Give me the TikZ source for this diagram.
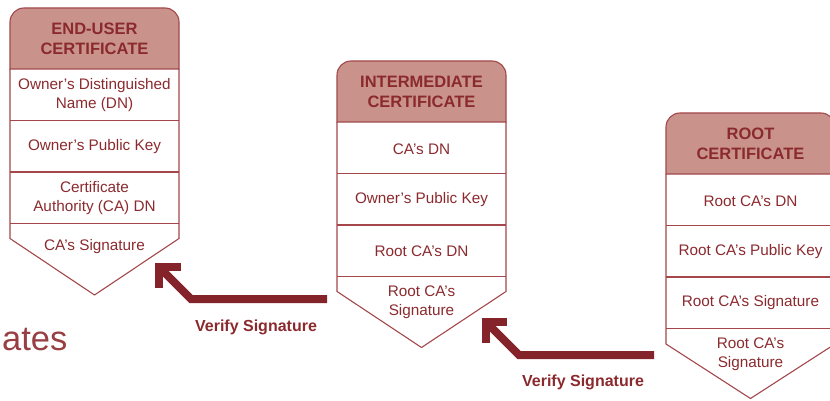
\documentclass[tikz,border=0pt]{standalone}
\usepackage{fontspec}
\setmainfont{Liberation Sans}

\definecolor{certtext}{HTML}{8B2A2E}
\definecolor{certline}{HTML}{A3474B}
\definecolor{certfill}{HTML}{C9938B}
\definecolor{arrowred}{HTML}{85232A}

\tikzset{
    frame/.style={draw=certline, line width=1.1pt},
    headbox/.style={frame, fill=certfill},
    headtext/.style={text=certtext, align=center, font=\fontsize{16.5}{20}\selectfont\bfseries},
    rowtext/.style={text=certtext, align=center, font=\fontsize{15.3}{19}\selectfont},
    verifyarrow/.style={draw=arrowred, line width=8pt, line join=miter},
    verifytext/.style={text=certtext, font=\fontsize{16}{19}\selectfont\bfseries}
}

\begin{document}
\begin{tikzpicture}[x=1pt, y=-1pt]
    \useasboundingbox (0,0) rectangle (830,401);

    %%%%%%%%%%%%%%%%%%%% end-user certificate
    \begin{scope}[shift={(10,8)}]
        \filldraw[headbox] (0,61) {[rounded corners=14pt] -- (0,0) -- (169,0)} -- (169,61) -- cycle;
        \draw[frame] (0,61) -- (0,230.5) -- (84.5,287) -- (169,230.5) -- (169,61);
        \draw[frame] (0,112.5) -- (169,112.5);
        \draw[frame] (0,164) -- (169,164);
        \draw[frame] (0,215.5) -- (169,215.5);

        \node[headtext] (eu_head) at (84.5,31) {END-USER\\CERTIFICATE};
        \node[rowtext] (eu_dn) at (84.5,87) {Owner’s Distinguished\\Name (DN)};
        \node[rowtext] (eu_key) at (84.5,138.5) {Owner’s Public Key};
        \node[rowtext] (eu_ca) at (84.5,190) {Certificate\\Authority (CA) DN};
        \node[rowtext] (eu_sig) at (84.5,239) {CA’s Signature};
    \end{scope}

    %%%%%%%%%%%%%%%%%%%% intermediate certificate
    \begin{scope}[shift={(337,61)}]
        \filldraw[headbox] (0,61) {[rounded corners=14pt] -- (0,0) -- (169,0)} -- (169,61) -- cycle;
        \draw[frame] (0,61) -- (0,230.5) -- (84.5,286.5) -- (169,230.5) -- (169,61);
        \draw[frame] (0,112.5) -- (169,112.5);
        \draw[frame] (0,164) -- (169,164);
        \draw[frame] (0,215.5) -- (169,215.5);

        \node[headtext] (im_head) at (84.5,31) {INTERMEDIATE\\CERTIFICATE};
        \node[rowtext] (im_dn) at (84.5,88) {CA’s DN};
        \node[rowtext] (im_key) at (84.5,138.5) {Owner’s Public Key};
        \node[rowtext] (im_root) at (84.5,190) {Root CA’s DN};
        \node[rowtext] (im_sig) at (84.5,241) {Root CA’s\\Signature};
    \end{scope}

    %%%%%%%%%%%%%%%%%%%% root certificate
    \begin{scope}[shift={(666,113)}]
        \filldraw[headbox] (0,61) {[rounded corners=14pt] -- (0,0) -- (169,0)} -- (169,61) -- cycle;
        \draw[frame] (0,61) -- (0,231) -- (84.5,285.5) -- (169,231) -- (169,61);
        \draw[frame] (0,112.5) -- (169,112.5);
        \draw[frame] (0,164) -- (169,164);
        \draw[frame] (0,215.5) -- (169,215.5);

        \node[headtext] (rt_head) at (84.5,31) {ROOT\\CERTIFICATE};
        \node[rowtext] (rt_dn) at (84.5,88) {Root CA’s DN};
        \node[rowtext] (rt_key) at (84.5,138.5) {Root CA’s Public Key};
        \node[rowtext] (rt_selfsig) at (84.5,190) {Root CA’s Signature};
        \node[rowtext] (rt_sig) at (84.5,241) {Root CA’s\\Signature};
    \end{scope}

    %%%%%%%%%%%%%%%%%%%% verify arrows
    \coordinate (v1_end) at (327,299);
    \coordinate (v1_bend) at (191,299);
    \coordinate (v1_tip) at (159,267);
    \coordinate (v1_h) at (181,267);
    \coordinate (v1_v) at (159,288);
    \draw[verifyarrow] (v1_end) -- (v1_bend) -- (v1_tip);
    \draw[verifyarrow] (v1_h) -- (v1_tip) -- (v1_v);
    \node[verifytext] (v1_label) at (256,327) {Verify Signature};

    \coordinate (v2_end) at (654,355);
    \coordinate (v2_bend) at (519,355);
    \coordinate (v2_tip) at (486,322);
    \coordinate (v2_h) at (507,322);
    \coordinate (v2_v) at (486,343);
    \draw[verifyarrow] (v2_end) -- (v2_bend) -- (v2_tip);
    \draw[verifyarrow] (v2_h) -- (v2_tip) -- (v2_v);
    \node[verifytext] (v2_label) at (583,382) {Verify Signature};

    %\node (title) at (0,340) {Certificates};
    \node[anchor=base west, inner sep=0pt, text=certtext!90, font=\fontsize{34.5}{38}\selectfont] (title) at (2,350) {ates};
\end{tikzpicture}
\end{document}
